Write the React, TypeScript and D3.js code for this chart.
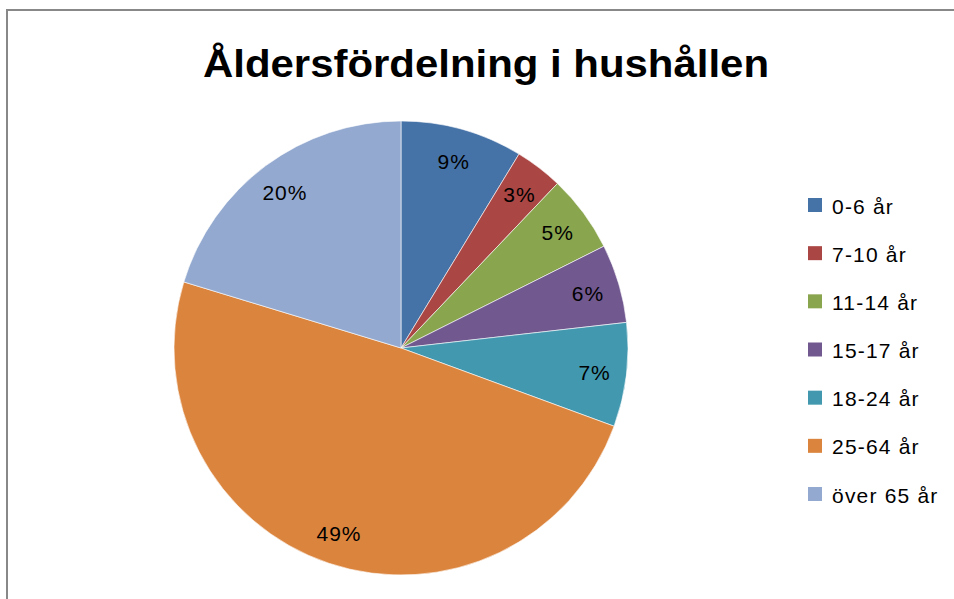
import React, { useEffect, useRef } from 'react';
import * as d3 from 'd3';

const categories = ['0-6 år', '7-10 år', '11-14 år', '15-17 år', '18-24 år', '25-64 år', 'över 65 år'];
const values = [8.7, 3.4, 5.5, 5.6, 7.4, 49.1, 20.3];
const labels = ['9%', '3%', '5%', '6%', '7%', '49%', '20%'];
const colors = ['#4572A7', '#AA4643', '#89A54E', '#71588F', '#4198AF', '#DB843D', '#93A9CF'];

function PieChart() {
  const ref = useRef<SVGSVGElement>(null);

  useEffect(() => {
    const w = 954;
    const h = 599;
    const svg = d3.select(ref.current);
    svg.selectAll('*').remove();

    // frame (only top and left edges show)
    svg.append('path')
      .attr('d', 'M7,599 L7,10 L954,10')
      .attr('fill', 'none')
      .attr('stroke', '#888')
      .attr('stroke-width', 2);

    svg.append('text')
      .text('Åldersfördelning i hushållen')
      .attr('x', 486)
      .attr('y', 77)
      .attr('text-anchor', 'middle')
      .attr('font-family', 'Liberation Sans, Arial, sans-serif')
      .attr('font-weight', 'bold')
      .attr('font-size', 38)
      .attr('textLength', 566)
      .attr('lengthAdjust', 'spacingAndGlyphs')
      .attr('fill', '#000');

    const cx = 401, cy = 348, r = 227;
    const pie = d3.pie<number>().sort(null).value(d => d);
    const arcs = pie(values);
    const arc = d3.arc<d3.PieArcDatum<number>>().innerRadius(0).outerRadius(r);
    const labelArc = d3.arc<d3.PieArcDatum<number>>().innerRadius(195).outerRadius(195);

    const g = svg.append('g').attr('transform', `translate(${cx},${cy})`);
    g.selectAll('path.slice')
      .data(arcs)
      .enter()
      .append('path')
      .attr('class', 'slice')
      .attr('d', arc)
      .attr('fill', (d, i) => colors[i])
      .attr('stroke', '#fff')
      .attr('stroke-width', 0.6);

    g.selectAll('text.lbl')
      .data(arcs)
      .enter()
      .append('text')
      .attr('class', 'lbl')
      .text((d, i) => labels[i])
      .attr('x', d => labelArc.centroid(d)[0])
      .attr('y', d => labelArc.centroid(d)[1] + 1)
      .attr('text-anchor', 'middle')
      .attr('dominant-baseline', 'central')
      .attr('font-family', 'Liberation Sans, Arial, sans-serif')
      .attr('font-size', 21)
      .attr('letter-spacing', 1)
      .attr('fill', '#000');

    const legendY = d3.scalePoint<string>()
      .domain(categories)
      .range([205, 494]);

    const lg = svg.append('g');
    const item = lg.selectAll('g')
      .data(categories)
      .enter()
      .append('g')
      .attr('transform', d => `translate(808,${legendY(d)})`);
    item.append('rect')
      .attr('x', 0)
      .attr('y', -7)
      .attr('width', 14)
      .attr('height', 14)
      .attr('fill', (d, i) => colors[i]);
    item.append('text')
      .text(d => d)
      .attr('x', 24)
      .attr('y', 1)
      .attr('dominant-baseline', 'central')
      .attr('font-family', 'Liberation Sans, Arial, sans-serif')
      .attr('font-size', 21)
      .attr('letter-spacing', 1.2)
      .attr('fill', '#000');

    svg.attr('width', w).attr('height', h);
  }, []);

  return <svg ref={ref} style={{ display: 'block' }}></svg>;
}

export default function App() {
  return (
    <div style={{ position: 'absolute', left: 0, top: 0 }}>
      <PieChart />
    </div>
  );
}
